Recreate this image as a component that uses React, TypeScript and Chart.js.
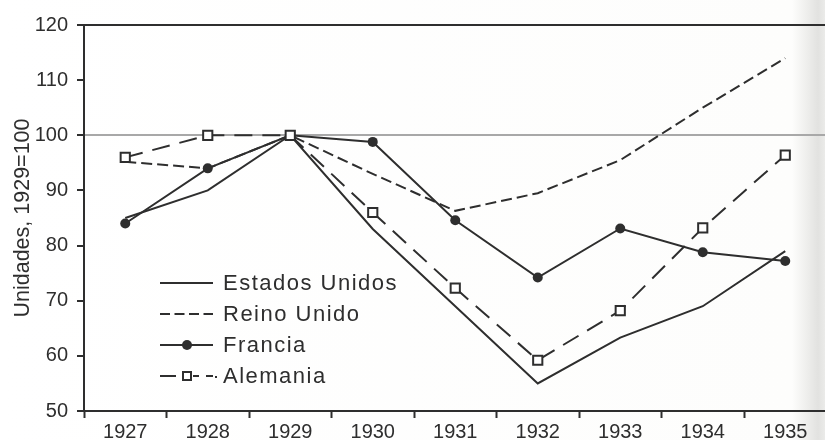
import React, { useEffect, useRef } from "react";
import { Chart, registerables } from "chart.js";

Chart.register(...registerables);

const years = ["1927", "1928", "1929", "1930", "1931", "1932", "1933", "1934", "1935"];
const estadosUnidos = [85, 90, 100, 83, 69, 55, 63.3, 69, 79];
const reinoUnido = [95.2, 94, 100, 93, 86.3, 89.5, 95.5, 105, 114];
const francia = [84, 94, 100, 98.8, 84.6, 74.2, 83.1, 78.8, 77.2];
const alemania = [96, 100, 100, 86, 72.3, 59.2, 68.2, 83.2, 96.4];
const yTicks = [50, 60, 70, 80, 90, 100, 110, 120];

const INK = "#2e2e2e";
const FONT = "'Liberation Sans', Arial, sans-serif";

const legendPlugin = {
  id: "customLegend",
  afterDatasetsDraw(chart: any) {
    const ctx = chart.ctx as CanvasRenderingContext2D;
    ctx.save();
    chart.data.datasets.forEach((ds: any, i: number) => {
      const y = 283 + i * 31;
      ctx.strokeStyle = INK;
      ctx.lineWidth = 2;
      ctx.setLineDash(ds.legendDash || []);
      ctx.beginPath();
      ctx.moveTo(160, y);
      ctx.lineTo(213, y);
      ctx.stroke();
      ctx.setLineDash([]);
      if (ds.pointStyle === "circle" && ds.pointRadius > 0) {
        ctx.fillStyle = INK;
        ctx.beginPath();
        ctx.arc(187, y, 5, 0, Math.PI * 2);
        ctx.fill();
      } else if (ds.pointStyle === "rect" && ds.pointRadius > 0) {
        ctx.fillStyle = "#ffffff";
        ctx.fillRect(181, y - 6, 12, 12);
        ctx.lineWidth = 2;
        ctx.strokeRect(183, y - 4, 8, 8);
        ctx.beginPath();
        ctx.moveTo(215, y + 1);
        ctx.lineTo(217, y + 1);
        ctx.stroke();
      }
      ctx.fillStyle = INK;
      ctx.font = `22px ${FONT}`;
      (ctx as any).letterSpacing = "1.5px";
      ctx.textBaseline = "middle";
      ctx.textAlign = "left";
      ctx.fillText(ds.label, 223, y + 1);
      (ctx as any).letterSpacing = "0px";
    });
    ctx.restore();
  },
};

export default function App() {
  const ref = useRef<HTMLCanvasElement | null>(null);

  useEffect(() => {
    if (!ref.current) return;
    const chart = new Chart(ref.current, {
      type: "line",
      data: {
        labels: years,
        datasets: [
          {
            label: "Estados Unidos",
            data: estadosUnidos,
            borderColor: INK,
            borderWidth: 2,
            pointRadius: 0,
            tension: 0,
            order: 3,
            legendDash: [],
          } as any,
          {
            label: "Reino Unido",
            data: reinoUnido,
            borderColor: INK,
            borderWidth: 2,
            borderDash: [11, 5],
            pointRadius: 0,
            tension: 0,
            order: 2,
            legendDash: [10, 4.5],
          } as any,
          {
            label: "Francia",
            data: francia,
            borderColor: INK,
            borderWidth: 2,
            pointStyle: "circle",
            pointRadius: 5,
            pointBackgroundColor: INK,
            pointBorderColor: INK,
            pointBorderWidth: 0,
            tension: 0,
            order: 1,
            legendDash: [],
          } as any,
          {
            label: "Alemania",
            data: alemania,
            borderColor: INK,
            borderWidth: 2,
            borderDash: [18, 10],
            pointStyle: "rect",
            pointRadius: 6.5,
            pointBackgroundColor: "#ffffff",
            pointBorderColor: INK,
            pointBorderWidth: 2,
            tension: 0,
            order: 0,
            legendDash: [16, 7],
          } as any,
        ],
      },
      options: {
        animation: false,
        responsive: false,
        devicePixelRatio: 1,
        layout: { padding: { top: 25, right: 4, bottom: 0, left: 0 } },
        plugins: { legend: { display: false }, tooltip: { enabled: false } },
        scales: {
          x: {
            type: "category",
            offset: true,
            grid: {
              offset: true,
              drawOnChartArea: false,
              tickLength: 7,
              tickColor: INK,
              tickWidth: 2,
            },
            border: { display: true, color: INK, width: 2 },
            ticks: { padding: 2, color: INK, font: { family: FONT, size: 20 } },
            afterFit: (s: any) => {
              s.height = 29;
            },
          },
          y: {
            min: 50,
            max: 120,
            afterBuildTicks: (s: any) => {
              s.ticks = yTicks.map((v) => ({ value: v }));
            },
            grid: {
              drawOnChartArea: true,
              color: (c: any) =>
                c.tick && c.tick.value === 100
                  ? "#a8a8a8"
                  : c.tick && c.tick.value === 120
                  ? INK
                  : "rgba(0,0,0,0)",
              lineWidth: 2,
              tickLength: 7,
              tickColor: INK,
              tickWidth: 2,
            },
            border: { display: true, color: INK, width: 2 },
            ticks: { padding: 9, color: INK, font: { family: FONT, size: 20 } },
            title: {
              display: true,
              text: "Unidades, 1929=100",
              color: INK,
              font: { family: FONT, size: 21.5 },
              padding: { top: 10, bottom: 0 },
            },
            afterFit: (s: any) => {
              s.width = 84;
            },
          },
        },
      },
      plugins: [legendPlugin],
    });
    return () => chart.destroy();
  }, []);

  return (
    <div
      style={{
        position: "absolute",
        left: 0,
        top: 0,
        width: 825,
        height: 440,
        overflow: "hidden",
        background:
          "linear-gradient(to right, #ffffff 0px, #fdfdfc 792px, #efefed 806px, #e2e2e0 818px, #ebebe9 825px)",
      }}
    >
      <canvas ref={ref} width={835} height={440} style={{ width: 835, height: 440, display: "block" }} />
    </div>
  );
}
